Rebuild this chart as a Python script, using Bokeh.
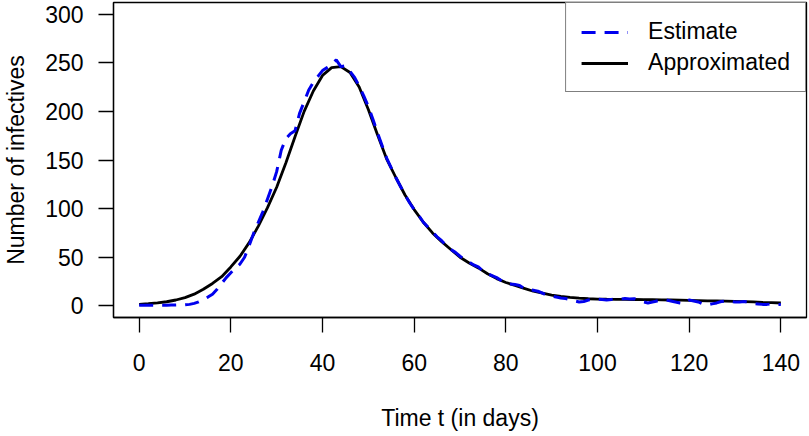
from bokeh.plotting import figure
from bokeh.models import Range1d, FixedTicker, Legend, LegendItem
from bokeh.embed import file_html
from bokeh.resources import INLINE

# Estimate (daily)
est_t = list(range(0, 141))
est_v = [0.5, 0.5, 0.5, 0.5, 0.5, 0.6, 0.6, 0.8, 0.8, 1, 1, 1.5, 2.5, 4, 6.5, 9, 12, 17, 23, 29,
         34, 39, 43, 50, 62, 75, 86, 97, 110, 123, 138, 160, 172, 177, 180, 198, 210, 222, 230, 236,
         242, 245, 248, 253, 246, 247, 241, 235, 226, 216, 205, 192, 178, 165, 152, 142, 132, 123, 114, 106,
         99, 93, 86, 81, 76, 71, 67, 62, 58, 55, 51, 48, 45, 42, 40, 36, 33, 31, 29, 26,
         23, 22.5, 22, 21, 18, 17, 16, 15, 13, 11, 10, 9, 8, 7.5, 6.5, 5, 4, 4.5, 6, 6.5,
         7, 6.5, 6, 6.5, 7, 7, 7.5, 7, 7.4, 5.5, 4, 3, 4, 5, 6, 6, 5, 4, 3, 2.3,
         6, 5, 4, 2, 1, 2, 3, 4.5, 5, 4.5, 4, 4, 4.5, 3.5, 2.5, 2, 1.5, 1.5, 2, 1.5, 1.5]

# Approximated (every 2 days)
app_t = list(range(0, 141, 2))
app_v = [1.5, 2.2, 3, 4.2, 6, 8.5, 12, 17, 23, 30, 40, 51, 65, 82, 101, 122, 147, 174, 200, 221,
         237, 245, 246, 240, 225, 202, 176, 151, 132, 114, 99, 86, 75, 66, 58, 50, 44, 39, 33, 28,
         24, 21, 18, 15, 13, 11, 9.6, 8.6, 7.9, 7.3, 7, 6.8, 6.7, 6.6, 6.5, 6.4, 6.3, 6.1, 6, 5.8,
         5.6, 5.4, 5.2, 5, 4.8, 4.6, 4.3, 4, 3.6, 3.3, 2.9]

x_ticks = [0, 20, 40, 60, 80, 100, 120, 140]
y_ticks = [0, 50, 100, 150, 200, 250, 300]

FONT = "Liberation Sans"
FS = "23px"

p = figure(width=809, height=436, output_backend="svg", toolbar_location=None,
           x_range=Range1d(-5.6, 145.6), y_range=Range1d(-12, 312),
           min_border_left=112, min_border_right=3, min_border_top=2, min_border_bottom=119)

p.xgrid.visible = False
p.ygrid.visible = False
p.outline_line_color = "black"
p.outline_line_width = 1.3
p.background_fill_color = "white"
p.border_fill_color = "white"

for ax, ticks in ((p.xaxis[0], x_ticks), (p.yaxis[0], y_ticks)):
    ax.ticker = FixedTicker(ticks=ticks)
    ax.axis_line_color = "black"
    ax.axis_line_width = 1.3
    ax.major_tick_line_color = "black"
    ax.major_tick_line_width = 1.3
    ax.major_tick_out = 15
    ax.major_tick_in = 0
    ax.minor_tick_line_color = None
    ax.major_label_text_font = FONT
    ax.major_label_text_font_size = FS
    ax.major_label_text_color = "black"
    ax.axis_label_text_font = FONT
    ax.axis_label_text_font_size = FS
    ax.axis_label_text_font_style = "normal"
    ax.axis_label_text_color = "black"
    ax.major_label_standoff = 15

p.xaxis[0].axis_label = "Time t (in days)"
p.xaxis[0].major_label_standoff = 21
p.xaxis[0].axis_label_standoff = 31
p.yaxis[0].axis_label = "Number of infectives"
p.yaxis[0].axis_label_standoff = 13

r_app = p.line(app_t, app_v, line_color="black", line_width=2.8)
r_est = p.line(est_t, est_v, line_color="#0000ee", line_width=3, line_dash="14 9")

legend = Legend(items=[LegendItem(label="Estimate", renderers=[r_est]),
                       LegendItem(label="Approximated", renderers=[r_app])],
                location="top_right")
legend.margin = 0
legend.padding = 15
legend.spacing = 4
legend.glyph_width = 47
legend.glyph_height = 26
legend.label_height = 26
legend.label_standoff = 20
legend.label_text_font = FONT
legend.label_text_font_size = FS
legend.label_text_color = "black"
legend.border_line_color = "black"
legend.border_line_width = 1.3
legend.background_fill_color = "white"
legend.background_fill_alpha = 1.0
p.add_layout(legend)

open("out.html", "w").write(file_html(p, INLINE))
